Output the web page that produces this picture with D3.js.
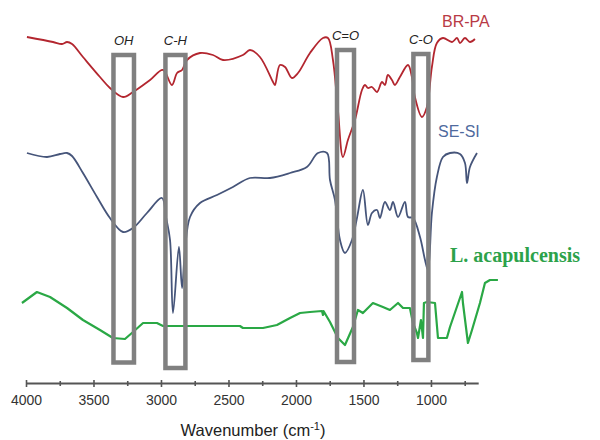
<!DOCTYPE html>
<html>
<head>
<meta charset="utf-8">
<script src="https://cdn.jsdelivr.net/npm/d3@7/dist/d3.min.js"></script>
<style>
  html, body { margin: 0; padding: 0; background: #fff; }
  svg { display: block; }
</style>
</head>
<body>
<svg id="chart" width="600" height="440"></svg>
<script>
// FTIR spectra, stacked with vertical offsets (transmittance, arbitrary units)
const brpaWave = [3993,3800,3733,3696,3659,3578,3452,3378,3281,3207,3081,2985,2919,2881,2844,2807,2711,2615,2541,2393,2341,2267,2170,2156,2119,2081,2030,1985,1896,1800,1763,1726,1689,1652,1615,1563,1511,1489,1467,1437,1400,1363,1341,1319,1289,1267,1230,1170,1141,1119,1067,1030,993,956,911,844,807,785,748,711,674];
const brpaT    = [353,348,346,348,346,333,313,302,293,298,310,320,305,317,320,330,337,335,330,335,340,333,308,305,325,323,312,317,337,352,352,330,280,233,250,270,300,305,302,303,298,308,305,315,310,305,313,325,313,293,273,283,323,347,352,348,352,347,352,348,351];

const sesiWave = [3993,3844,3748,3696,3659,3578,3474,3378,3281,3207,3104,2993,2963,2933,2911,2867,2844,2822,2785,2711,2585,2467,2341,2193,2044,1919,1837,1770,1748,1711,1674,1637,1585,1548,1504,1467,1437,1400,1378,1341,1304,1281,1244,1193,1170,1133,1081,1044,1022,993,956,911,859,785,748,733,711,659];
const sesiT    = [237,233,236,237,234,217,193,172,158,162,177,192,173,150,77,143,102,140,173,187,195,203,212,212,217,223,237,237,210,190,150,137,150,172,200,165,177,180,172,188,180,188,173,188,173,172,153,130,120,177,213,233,237,236,227,207,223,237];

const lacaWave = [4030,3919,3822,3696,3578,3452,3356,3267,3207,3133,3030,2985,2711,2415,2393,2244,2141,2044,1970,1896,1807,1800,1796,1748,1689,1637,1578,1541,1504,1430,1356,1304,1244,1207,1156,1133,1104,1096,1074,1059,1052,1030,970,948,882,859,770,763,726,696,637,600,563,504];
const lacaT    = [87,98,93,82,70,60,52,51,58,67,67,64,64,64,62,62,65,72,77,78,79,75,79,68,52,45,63,80,77,87,83,80,87,82,82,67,57,52,70,52,87,88,87,52,52,63,98,87,47,60,87,107,110,110];

const seriesNames  = ["BR-PA", "SE-SI", "L. acapulcensis"];
const seriesColors = ["#b3262f", "#46557a", "#2aa845"];

// Marked absorption bands
const bandLabels = ["OH", "C-H", "C=O", "C-O"];
const bandFrom   = [3352, 2967, 1696, 1130];
const bandTo     = [3200, 2819, 1570, 1019];
const bandTop    = [335, 335, 340, 336];
const bandBottom = [27.5, 22, 28, 30];

const majorTicks = [4000, 3500, 3000, 2500, 2000, 1500, 1000];
const minorTicks = [3750, 3250, 2750, 2250, 1750, 1250, 750];

const svg = d3.select("#chart");

const x = d3.scaleLinear().domain([4000, 650]).range([26, 478.2]);
const y = d3.scaleLinear().domain([0, 370]).range([390, 20]);

const smoothLine = d3.line().curve(d3.curveCatmullRom.alpha(0.5))
  .x(d => x(d[0])).y(d => y(d[1]));
const stepLine = d3.line()
  .x(d => x(d[0])).y(d => y(d[1]));

const series = [
  { name: seriesNames[0], color: seriesColors[0], pts: d3.zip(brpaWave, brpaT), width: 1.8, gen: smoothLine },
  { name: seriesNames[1], color: seriesColors[1], pts: d3.zip(sesiWave, sesiT), width: 1.8, gen: smoothLine },
  { name: seriesNames[2], color: seriesColors[2], pts: d3.zip(lacaWave, lacaT), width: 2.2, gen: stepLine }
];

svg.append("g").selectAll("path")
  .data(series)
  .join("path")
  .attr("fill", "none")
  .attr("stroke", d => d.color)
  .attr("stroke-width", d => d.width)
  .attr("stroke-linejoin", "round")
  .attr("d", d => d.gen(d.pts));

// Band boxes
const bands = bandLabels.map((l, i) => ({ label: l, from: bandFrom[i], to: bandTo[i], top: bandTop[i], bottom: bandBottom[i] }));
svg.append("g").selectAll("rect")
  .data(bands)
  .join("rect")
  .attr("x", d => x(d.from))
  .attr("width", d => x(d.to) - x(d.from))
  .attr("y", d => y(d.top))
  .attr("height", d => y(d.bottom) - y(d.top))
  .attr("fill", "none")
  .attr("stroke", "#808080")
  .attr("stroke-width", 4.5);

svg.append("g").selectAll("text")
  .data(bands)
  .join("text")
  .attr("x", d => (x(d.from) + x(d.to)) / 2)
  .attr("y", d => y(d.top) - 10)
  .attr("text-anchor", "middle")
  .attr("font-family", "Liberation Sans, Arial, sans-serif")
  .attr("font-style", "italic")
  .attr("font-size", 13)
  .attr("fill", "#222")
  .text(d => d.label);

// Series labels
svg.append("text").attr("x", 442).attr("y", 27)
  .attr("font-family", "Liberation Sans, Arial, sans-serif").attr("font-size", 16)
  .attr("fill", "#b83a45").text(seriesNames[0]);
svg.append("text").attr("x", 438).attr("y", 137)
  .attr("font-family", "Liberation Sans, Arial, sans-serif").attr("font-size", 16)
  .attr("fill", "#4f6a9e").text(seriesNames[1]);
svg.append("text").attr("x", 450).attr("y", 262)
  .attr("font-family", "Liberation Serif, Times New Roman, serif").attr("font-size", 20)
  .attr("font-weight", "bold")
  .attr("fill", "#2ca24a").text(seriesNames[2]);

// X axis
const axisY = 383;
const gAxis = svg.append("g").attr("transform", `translate(0,${axisY})`)
  .call(d3.axisBottom(x).tickValues(majorTicks).tickSize(4).tickSizeOuter(0).tickPadding(8).tickFormat(d3.format("d")));
gAxis.select(".domain").attr("stroke", "#555").attr("stroke-width", 2);
gAxis.selectAll(".tick line").attr("stroke", "#555").attr("stroke-width", 1.6).attr("y1", -3);
gAxis.selectAll(".tick text")
  .attr("font-family", "Liberation Sans, Arial, sans-serif")
  .attr("font-size", 14)
  .attr("fill", "#333");

const gMinor = svg.append("g").attr("transform", `translate(0,${axisY})`)
  .call(d3.axisBottom(x).tickValues(minorTicks).tickSize(3).tickFormat(""));
gMinor.select(".domain").remove();
gMinor.selectAll(".tick line").attr("stroke", "#555").attr("stroke-width", 1.6).attr("y1", -2);

// Axis title
const title = svg.append("text")
  .attr("x", 253).attr("y", 436)
  .attr("text-anchor", "middle")
  .attr("font-family", "Liberation Sans, Arial, sans-serif")
  .attr("font-size", 16.5)
  .attr("fill", "#222");
title.append("tspan").text("Wavenumber (cm");
title.append("tspan").attr("font-size", 11).attr("dy", -6).text("-1");
title.append("tspan").attr("dy", 6).text(")");
</script>
</body>
</html>
